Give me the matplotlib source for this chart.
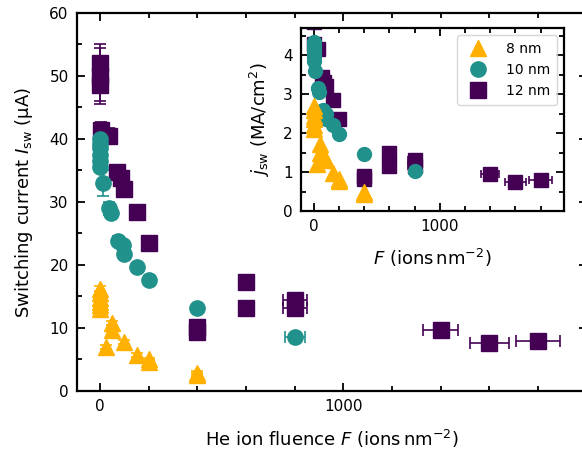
import matplotlib
matplotlib.use('Agg')
import matplotlib.pyplot as plt
from matplotlib.lines import Line2D
from matplotlib.ticker import MultipleLocator

plt.rcParams['font.family'] = ['DejaVu Sans']
plt.rcParams['mathtext.fontset'] = 'dejavusans'

# 8 nm film
F8 = [0, 0, 0, 0, 0, 0, 25, 50, 50, 100, 150, 200, 200, 400, 400]
I8 = [16.2, 15.5, 14.8, 14.2, 13.6, 13.0, 7.0, 10.8, 9.7, 7.8, 5.7, 5.0, 4.6, 2.9, 2.5]
J8 = [2.7, 2.6, 2.45, 2.35, 2.2, 2.1, 1.2, 1.73, 1.5, 1.3, 0.97, 0.82, 0.77, 0.48, 0.43]
I8_err = [0.4, 0.4, 0.4, 0.4, 0.4, 0.4, 0.3, 0.3, 0.3, 0.3, 0.3, 0.3, 0.3, 0.3, 0.3]

# 10 nm film
F10 = [0, 0, 0, 0, 0, 0, 10, 35, 45, 75, 95, 100, 150, 200, 400, 800]
I10 = [40.0, 39.2, 38.5, 37.5, 36.5, 35.5, 33.0, 29.0, 28.3, 23.8, 23.2, 21.7, 19.6, 17.6, 13.1, 8.5]
J10 = [4.35, 4.25, 4.15, 4.05, 3.95, 3.85, 3.6, 3.15, 3.05, 2.6, 2.5, 2.35, 2.2, 1.98, 1.47, 1.02]
I10_err = [0.8, 0.8, 0.8, 0.8, 0.8, 0.8, 2.0, 1.0, 0.8, 0.8, 0.8, 0.8, 0.6, 0.6, 0.4, 0.4]
F10_err = [0, 0, 0, 0, 0, 0, 0, 0, 0, 0, 0, 0, 0, 0, 0, 40]

# 12 nm film
F12 = [0, 0, 0, 5, 35, 70, 85, 100, 150, 200, 400, 400, 600, 600, 800, 800, 1400, 1600, 1800]
I12 = [52.0, 50.0, 48.5, 41.5, 40.5, 34.8, 33.8, 32.0, 28.4, 23.5, 10.2, 9.3, 17.3, 13.2, 14.4, 13.2, 9.7, 7.6, 7.9]
J12 = [5.2, 5.0, 4.85, 4.3, 4.15, 3.45, 3.3, 3.2, 2.85, 2.35, 0.9, 0.82, 1.5, 1.15, 1.3, 1.15, 0.95, 0.75, 0.8]
I12_err = [3.0, 4.5, 2.5, 1.2, 1.2, 1.0, 1.0, 1.0, 1.0, 0.8, 0.4, 0.4, 0.4, 0.4, 0.5, 0.5, 0.4, 0.4, 0.4]
F12_err = [0, 0, 0, 0, 0, 0, 0, 0, 0, 0, 0, 0, 0, 0, 50, 50, 72, 80, 90]

labels = ['8 nm', '10 nm', '12 nm']
colors = ['#ffb000', '#21918c', '#440154']
markers = ['^', 'o', 's']


def style_axes(ax, xminor, ymajor, yminor):
    ax.xaxis.set_major_locator(MultipleLocator(1000))
    ax.xaxis.set_minor_locator(MultipleLocator(xminor))
    ax.yaxis.set_major_locator(MultipleLocator(ymajor))
    ax.yaxis.set_minor_locator(MultipleLocator(yminor))
    ax.tick_params(which='both', direction='in', top=True, right=True, width=1.3)
    ax.tick_params(which='major', length=6, labelsize=11, pad=6)
    ax.tick_params(which='minor', length=3.5)
    for s in ax.spines.values():
        s.set_linewidth(1.6)


fig = plt.figure(figsize=(5.82, 4.55), dpi=100)
# main axes run a bit past the right edge, like the cropped original
ax = fig.add_axes([0.1323, 0.1407, 0.876, 0.8308])

series = [
    (F12, I12, J12, F12_err, I12_err, 2),
    (F10, I10, J10, F10_err, I10_err, 1),
    (F8, I8, J8, [0] * len(F8), I8_err, 0),
]
for F, I, J, ferr, ierr, k in series:
    ax.errorbar(F, I, yerr=ierr, xerr=ferr, fmt=markers[k], color=colors[k],
                ms=11 if k != 0 else 12, mec=colors[k], ecolor=colors[k],
                elinewidth=1.2, capsize=4, capthick=1.2)

ax.set_xlim(-95, 2000)
ax.set_ylim(0, 60)
style_axes(ax, 200, 10, 5)
ax.set_xticks([0, 1000])
ax.set_xlabel('He ion fluence $F$ (ions$\\,$nm$^{-2}$)', fontsize=13, labelpad=10)
ax.set_ylabel('Switching current $I_\\mathrm{sw}$ (μA)', fontsize=13, labelpad=10)

# inset with current density
ins = fig.add_axes([0.5172, 0.5363, 0.4519, 0.4022])
for F, I, J, ferr, ierr, k in series:
    ins.errorbar(F, J, xerr=ferr, fmt=markers[k], color=colors[k],
                 ms=10 if k != 0 else 11, mec=colors[k], ecolor=colors[k],
                 elinewidth=1.2, capsize=3, capthick=1.2)

ins.set_xlim(-100, 1985)
ins.set_ylim(0, 4.7)
style_axes(ins, 200, 1, 0.5)
ins.set_xlabel('$F$ (ions$\\,$nm$^{-2}$)', fontsize=13, labelpad=9)
ins.set_ylabel('$j_\\mathrm{sw}$ (MA/cm$^2$)', fontsize=13, labelpad=8)

leg_handles = [Line2D([], [], ls='none', marker=markers[k], color=colors[k],
                      ms=11 if k != 0 else 12) for k in range(3)]
ins.legend(leg_handles, labels, loc='upper right', fontsize=10,
           handletextpad=1.0, borderpad=0.5)

fig.savefig('out.png', dpi=100)
